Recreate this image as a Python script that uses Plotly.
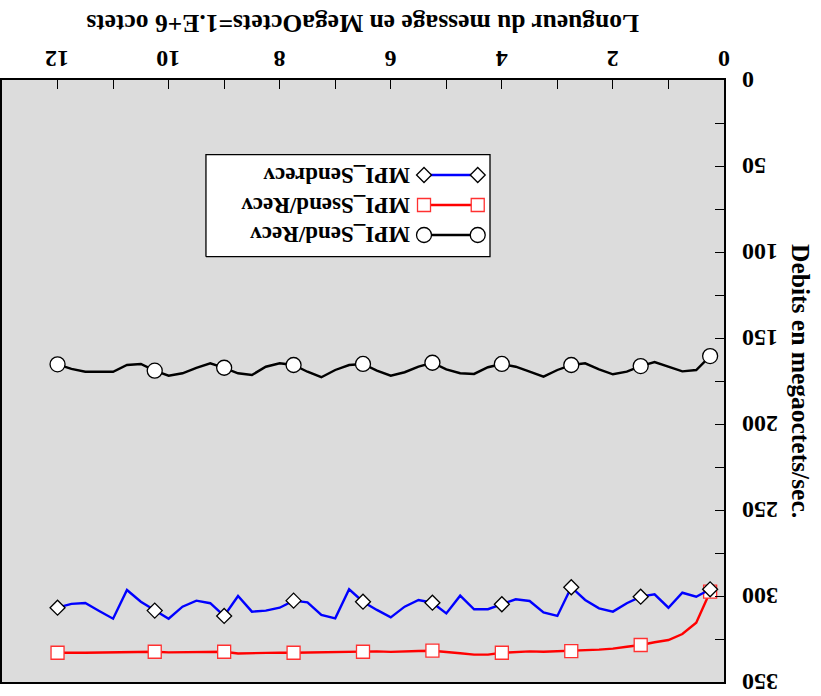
import plotly.graph_objects as go

# ---------------- data ----------------
msg_len = [0.25, 0.5, 0.75, 1.0, 1.25, 1.5, 1.75, 2.0, 2.25, 2.5, 2.75, 3.0,
           3.25, 3.5, 3.75, 4.0, 4.25, 4.5, 4.75, 5.0, 5.25, 5.5, 5.75, 6.0,
           6.25, 6.5, 6.75, 7.0, 7.25, 7.5, 7.75, 8.0, 8.25, 8.5, 8.75, 9.0,
           9.25, 9.5, 9.75, 10.0, 10.25, 10.5, 10.75, 11.0, 11.25, 11.5, 11.75, 12.0]

send_recv = [160.5, 168.6, 169.4, 166.7, 164.0, 166.3, 169.6, 171.1, 168.2, 164.7, 165.7, 168.6,
             172.5, 169.6, 166.7, 165.1, 167.0, 170.9, 170.5, 168.2, 164.4, 166.7, 169.9, 171.9,
             169.0, 165.1, 165.7, 168.6, 172.8, 169.6, 165.7, 164.7, 166.7, 171.5, 170.5, 167.3,
             164.7, 167.3, 170.5, 171.9, 169.0, 165.1, 165.7, 169.6, 169.6, 169.6, 168.0, 165.3]

ssend_recv = [297.5, 315.5, 322.1, 325.6, 326.9, 328.5, 329.5, 330.6, 331.2, 331.6, 332.0, 332.4,
              332.4, 332.2, 332.6, 333.0, 334.1, 334.1, 333.3, 332.6, 331.8, 332.0, 332.3, 332.5,
              332.2, 332.4, 332.6, 332.8, 332.7, 332.9, 333.0, 332.9, 333.1, 333.4, 333.4, 332.4,
              332.5, 332.6, 332.7, 332.8, 332.4, 332.6, 332.8, 332.9, 332.9, 333.0, 333.0, 333.0]

sendrecv = [296.1, 300.4, 298.1, 306.8, 299.0, 300.4, 304.2, 309.1, 307.2, 302.3, 294.9, 311.6,
            309.5, 302.9, 301.9, 304.8, 307.7, 307.7, 299.8, 310.1, 303.9, 302.3, 306.2, 312.4,
            308.1, 303.3, 296.1, 313.0, 311.0, 303.7, 302.7, 306.8, 308.5, 309.1, 300.0, 311.6,
            304.2, 302.7, 306.2, 313.2, 308.5, 303.3, 296.5, 313.2, 308.7, 304.1, 304.6, 306.8]

# message lengths at which a symbol is drawn
marker_len = [0.25, 1.5, 2.75, 4.0, 5.25, 6.5, 7.75, 9.0, 10.25, 12.0]

series_names = ["MPI_Send/Recv", "MPI_Ssend/Recv", "MPI_Sendrecv"]
series_values = [send_recv, ssend_recv, sendrecv]
series_colors = ["#000000", "#ff0000", "#0000ff"]
series_symbols = ["circle", "square", "diamond"]
series_msize = [15, 13, 11.5]
series_mline = ["#000000", "#ff3030", "#000000"]

x_ticks = [0, 2, 4, 6, 8, 10, 12]
y_ticks = [0, 50, 100, 150, 200, 250, 300, 350]

x_title = "Longueur du message en MegaOctets=1.E+6 octets"
y_title = "Debits en megaoctets/sec."

# ---------------- figure ----------------
FONT = dict(family="Liberation Serif", size=24, color="#000000", weight="bold")

fig = go.Figure()

for name, vals, col, sym, ms, ml in zip(series_names, series_values, series_colors,
                                        series_symbols, series_msize, series_mline):
    fig.add_trace(go.Scatter(x=msg_len, y=vals, mode="lines",
                             line=dict(color=col, width=2.4), showlegend=False,
                             hoverinfo="skip"))
    mx = [x for x in marker_len]
    my = [vals[msg_len.index(x)] for x in marker_len]
    fig.add_trace(go.Scatter(x=mx, y=my, mode="markers", name=name, showlegend=False,
                             marker=dict(symbol=sym, size=ms, color="#ffffff",
                                         line=dict(color=ml, width=1.3)),
                             cliponaxis=False))

# ---- hand-made legend (drawn upside down like the rest of the chart) ----
leg_box_x = [0.2825, 0.6759]
leg_box_y = [0.7065, 0.8759]
leg_rows = {"MPI_Sendrecv": 0.8422, "MPI_Ssend/Recv": 0.7924, "MPI_Send/Recv": 0.7425}
leg_x_samples = [0.5845, 0.6589]
leg_text_right = 0.5679

fig.add_trace(go.Scatter(
    x=[leg_box_x[0], leg_box_x[1], leg_box_x[1], leg_box_x[0], leg_box_x[0]],
    y=[leg_box_y[0], leg_box_y[0], leg_box_y[1], leg_box_y[1], leg_box_y[0]],
    xaxis="x2", yaxis="y2", mode="lines", fill="toself", fillcolor="#ffffff",
    line=dict(color="#000000", width=1.3), showlegend=False, hoverinfo="skip"))

for name, col, sym, ms, ml in zip(series_names, series_colors, series_symbols,
                                  series_msize, series_mline):
    yy = leg_rows[name]
    fig.add_trace(go.Scatter(x=leg_x_samples, y=[yy, yy], xaxis="x2", yaxis="y2",
                             mode="lines+markers", showlegend=False, hoverinfo="skip",
                             line=dict(color=col, width=2.4),
                             marker=dict(symbol=sym, size=ms, color="#ffffff",
                                         line=dict(color=ml, width=1.3)),
                             cliponaxis=False))
    fig.add_annotation(xref="paper", yref="paper", x=leg_text_right, y=yy,
                       text=name, textangle=180, showarrow=False,
                       xanchor="right", yanchor="middle", font=dict(FONT, size=23))

# tick labels (upside down)
for v in x_ticks:
    fig.add_annotation(xref="x", yref="paper", x=v, y=1.0337, text=str(v),
                       textangle=180, showarrow=False, xanchor="center",
                       yanchor="middle", font=FONT)
for v in y_ticks:
    fig.add_annotation(xref="paper", yref="y", x=1.0222, y=v, text=str(v),
                       textangle=180, showarrow=False, xanchor="left",
                       yanchor="middle", font=FONT)

# axis titles (upside down)
fig.add_annotation(xref="paper", yref="paper", x=0.5, y=1.093, text=x_title,
                   textangle=180, showarrow=False, xanchor="center", yanchor="middle",
                   font=dict(FONT, size=25.5))
fig.add_annotation(xref="paper", yref="paper", x=1.1066, y=0.5, text=y_title,
                   textangle=90, showarrow=False, xanchor="center", yanchor="middle",
                   font=dict(FONT, size=25.5))

fig.update_layout(
    width=821, height=696,
    margin=dict(l=2, r=97, t=80, b=14, autoexpand=False),
    paper_bgcolor="#ffffff", plot_bgcolor="#dcdcdc",
    font=FONT,
    showlegend=False,
    xaxis=dict(range=[13, 0], side="top", tickvals=x_ticks, showticklabels=False,
               ticks="inside", ticklen=9, tickwidth=1, tickcolor="#000000",
               minor=dict(dtick=1, ticks="inside", ticklen=9, tickwidth=1, tickcolor="#000000"),
               showgrid=False, zeroline=False, showline=True, linecolor="#000000",
               linewidth=1.5, mirror=True, automargin=False),
    yaxis=dict(range=[350, 0], side="right", tickvals=y_ticks, showticklabels=False,
               ticks="inside", ticklen=9, tickwidth=1, tickcolor="#000000",
               minor=dict(dtick=25, ticks="inside", ticklen=9, tickwidth=1, tickcolor="#000000"),
               showgrid=False, zeroline=False, showline=True, linecolor="#000000",
               linewidth=1.5, mirror=True, automargin=False),
    xaxis2=dict(overlaying="x", range=[0, 1], visible=False),
    yaxis2=dict(overlaying="y", range=[0, 1], visible=False),
)

fig.write_html("out.html")
